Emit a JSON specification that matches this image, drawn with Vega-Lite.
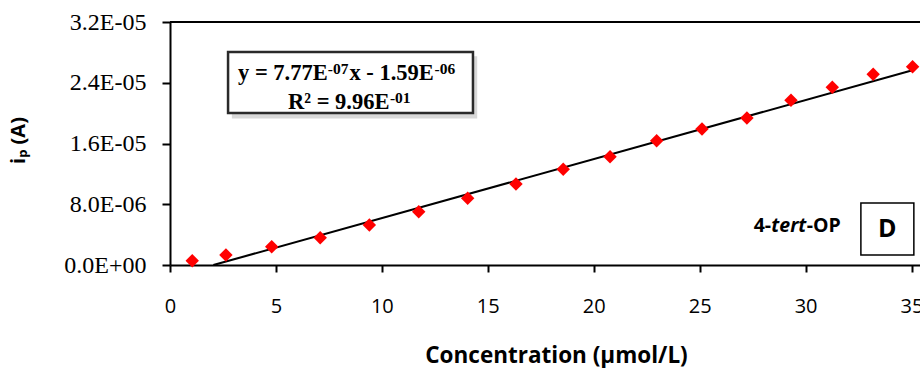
{
  "$schema": "https://vega.github.io/schema/vega-lite/v6.json",
  "width": 750,
  "height": 243,
  "autosize": {"type": "none"},
  "padding": {"left": 170, "top": 22, "right": 0, "bottom": 103},
  "background": "white",
  "config": {"view": {"stroke": null}, "axis": {"grid": false}},
  "data": {"values": [{"anchor": 1}]},
  "datasets": {
    "points": [
      {"conc": 1.05, "ip": 0.00000057},
      {"conc": 2.64, "ip": 0.00000132},
      {"conc": 4.80, "ip": 0.00000240},
      {"conc": 7.09, "ip": 0.00000359},
      {"conc": 9.41, "ip": 0.00000527},
      {"conc": 11.74, "ip": 0.00000702},
      {"conc": 14.05, "ip": 0.00000879},
      {"conc": 16.33, "ip": 0.00001067},
      {"conc": 18.56, "ip": 0.00001260},
      {"conc": 20.77, "ip": 0.00001426},
      {"conc": 22.97, "ip": 0.00001637},
      {"conc": 25.11, "ip": 0.00001791},
      {"conc": 27.23, "ip": 0.00001936},
      {"conc": 29.31, "ip": 0.00002169},
      {"conc": 31.26, "ip": 0.00002340},
      {"conc": 33.19, "ip": 0.00002511},
      {"conc": 35.05, "ip": 0.00002611}
    ],
    "fit": [
      {"conc": 2.0463, "ip": 0},
      {"conc": 35.0, "ip": 0.000025605}
    ]
  },
  "layer": [
    {
      "data": {"name": "points"},
      "mark": {"type": "point", "shape": "diamond", "filled": true, "color": "#FF0000", "size": 180, "opacity": 0},
      "encoding": {
        "x": {
          "field": "conc", "type": "quantitative",
          "scale": {"domain": [0, 35.4], "nice": false},
          "axis": {
            "values": [0, 5, 10, 15, 20, 25, 30, 35],
            "labelFont": "Open Sans", "labelFontSize": 20, "labelColor": "black",
            "labelPadding": 24, "labelOverlap": false, "labelFlush": false,
            "tickSize": 7, "tickColor": "black", "tickWidth": 2,
            "domainColor": "black", "domainWidth": 2, "grid": false,
            "title": "Concentration (μmol/L)",
            "titleFont": "Open Sans", "titleFontSize": 22.5, "titleFontWeight": "bold", "titleColor": "black",
            "titleX": 386, "titleY": 97, "titleAlign": "center", "titleBaseline": "alphabetic"
          }
        },
        "y": {
          "field": "ip", "type": "quantitative",
          "scale": {"domain": [0, 0.000032], "nice": false},
          "axis": {
            "values": [0, 0.000008, 0.000016, 0.000024, 0.000032],
            "labelExpr": "replace(replace(format(datum.value, '.1e'), 'e-', 'E-0'), 'e+', 'E+0')",
            "labelFont": "Liberation Serif", "labelFontSize": 24, "labelColor": "black",
            "labelPadding": 16, "labelOverlap": false,
            "tickSize": 8, "tickColor": "black", "tickWidth": 2,
            "domainColor": "black", "domainWidth": 2, "grid": false,
            "title": "iₚ (A)",
            "titleFont": "Open Sans", "titleFontSize": 20, "titleFontWeight": "bold", "titleColor": "black",
            "titleX": -152, "titleY": 118, "titleAngle": -90, "titleAlign": "center", "titleBaseline": "middle"
          }
        }
      }
    },
    {
      "mark": {"type": "rule", "stroke": "black", "strokeWidth": 2},
      "encoding": {
        "y": {"datum": 0.000032, "type": "quantitative"}
      }
    },
    {
      "mark": {"type": "rect", "fill": "#b8b8b8", "opacity": 0.55},
      "encoding": {
        "x": {"datum": 2.92, "type": "quantitative"},
        "x2": {"datum": 14.50},
        "y": {"datum": 0.0000275, "type": "quantitative"},
        "y2": {"datum": 0.0000193}
      }
    },
    {
      "mark": {"type": "rect", "fill": "white", "stroke": "#2a2a2a", "strokeWidth": 2.5},
      "encoding": {
        "x": {"datum": 2.74, "type": "quantitative"},
        "x2": {"datum": 14.30},
        "y": {"datum": 0.00002805, "type": "quantitative"},
        "y2": {"datum": 0.00002002}
      }
    },
    {
      "mark": {"type": "text", "text": "y = 7.77E", "align": "left", "baseline": "alphabetic", "font": "Liberation Serif", "fontSize": 22.5, "fontWeight": "bold", "color": "black"},
      "encoding": {
        "x": {"datum": 3.21, "type": "quantitative"},
        "y": {"datum": 0.00002436, "type": "quantitative"}
      }
    },
    {
      "mark": {"type": "text", "text": "-07", "align": "left", "baseline": "alphabetic", "font": "Liberation Serif", "fontSize": 15.5, "fontWeight": "bold", "color": "black"},
      "encoding": {
        "x": {"datum": 7.45, "type": "quantitative"},
        "y": {"datum": 0.00002515, "type": "quantitative"}
      }
    },
    {
      "mark": {"type": "text", "text": "x - 1.59E", "align": "left", "baseline": "alphabetic", "font": "Liberation Serif", "fontSize": 22.5, "fontWeight": "bold", "color": "black"},
      "encoding": {
        "x": {"datum": 8.47, "type": "quantitative"},
        "y": {"datum": 0.00002436, "type": "quantitative"}
      }
    },
    {
      "mark": {"type": "text", "text": "-06", "align": "left", "baseline": "alphabetic", "font": "Liberation Serif", "fontSize": 15.5, "fontWeight": "bold", "color": "black"},
      "encoding": {
        "x": {"datum": 12.49, "type": "quantitative"},
        "y": {"datum": 0.00002515, "type": "quantitative"}
      }
    },
    {
      "mark": {"type": "text", "text": "R² = 9.96E", "align": "left", "baseline": "alphabetic", "font": "Liberation Serif", "fontSize": 22.5, "fontWeight": "bold", "color": "black"},
      "encoding": {
        "x": {"datum": 5.57, "type": "quantitative"},
        "y": {"datum": 0.00002057, "type": "quantitative"}
      }
    },
    {
      "mark": {"type": "text", "text": "-01", "align": "left", "baseline": "alphabetic", "font": "Liberation Serif", "fontSize": 15.5, "fontWeight": "bold", "color": "black"},
      "encoding": {
        "x": {"datum": 10.38, "type": "quantitative"},
        "y": {"datum": 0.00002136, "type": "quantitative"}
      }
    },
    {
      "mark": {"type": "rect", "fill": "white", "stroke": "black", "strokeWidth": 1.5},
      "encoding": {
        "x": {"datum": 32.61, "type": "quantitative"},
        "x2": {"datum": 35.11},
        "y": {"datum": 0.00000816, "type": "quantitative"},
        "y2": {"datum": 0.00000132}
      }
    },
    {
      "mark": {"type": "text", "text": "D", "align": "center", "baseline": "middle", "font": "Open Sans", "fontSize": 25, "fontWeight": "bold", "color": "black"},
      "encoding": {
        "x": {"datum": 33.86, "type": "quantitative"},
        "y": {"datum": 0.00000474, "type": "quantitative"}
      }
    },
    {
      "mark": {"type": "text", "text": "4-", "align": "left", "baseline": "alphabetic", "font": "Open Sans", "fontSize": 19.5, "fontWeight": "bold", "color": "black"},
      "encoding": {
        "x": {"datum": 27.55, "type": "quantitative"},
        "y": {"datum": 0.00000435, "type": "quantitative"}
      }
    },
    {
      "mark": {"type": "text", "text": "tert", "align": "left", "baseline": "alphabetic", "font": "Open Sans", "fontSize": 19.5, "fontWeight": "bold", "fontStyle": "italic", "color": "black"},
      "encoding": {
        "x": {"datum": 28.38, "type": "quantitative"},
        "y": {"datum": 0.00000435, "type": "quantitative"}
      }
    },
    {
      "mark": {"type": "text", "text": "-OP", "align": "left", "baseline": "alphabetic", "font": "Open Sans", "fontSize": 19.5, "fontWeight": "bold", "color": "black"},
      "encoding": {
        "x": {"datum": 30.05, "type": "quantitative"},
        "y": {"datum": 0.00000435, "type": "quantitative"}
      }
    },
    {
      "data": {"name": "fit"},
      "mark": {"type": "line", "color": "black", "strokeWidth": 2},
      "encoding": {
        "x": {"field": "conc", "type": "quantitative"},
        "y": {"field": "ip", "type": "quantitative"}
      }
    },
    {
      "data": {"name": "points"},
      "mark": {"type": "point", "shape": "diamond", "filled": true, "color": "#FF0000", "size": 180, "opacity": 1},
      "encoding": {
        "x": {"field": "conc", "type": "quantitative"},
        "y": {"field": "ip", "type": "quantitative"}
      }
    }
  ]
}
